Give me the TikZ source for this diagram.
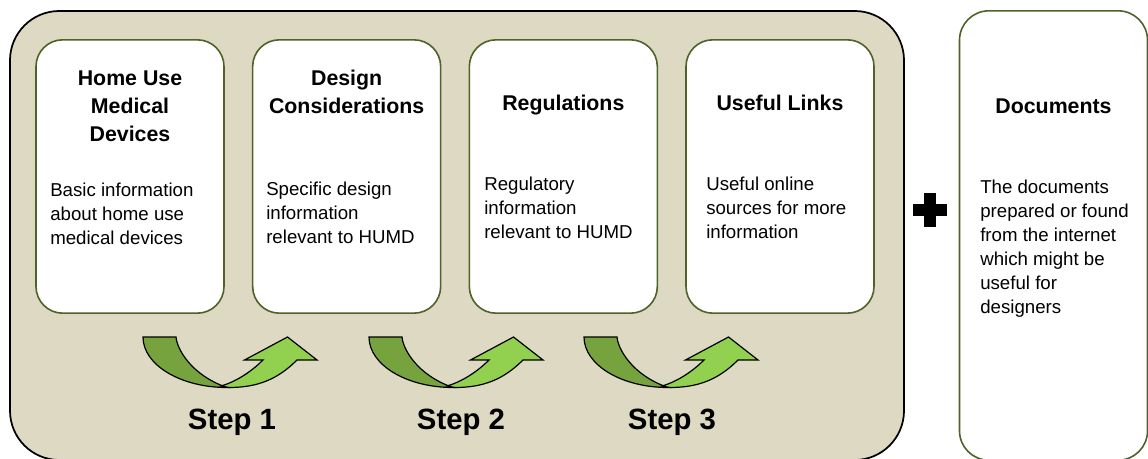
\documentclass[tikz,border=0pt]{standalone}
\usepackage{fontspec}
\setmainfont{Liberation Sans}
\usetikzlibrary{positioning}

\definecolor{panelbg}{RGB}{221,217,195}
\definecolor{boxline}{RGB}{79,98,40}
\definecolor{arrowdark}{RGB}{118,163,62}
\definecolor{arrowlight}{RGB}{146,208,80}

\begin{document}
\begin{tikzpicture}[
    x=0.75pt, y=-0.75pt,
    node distance=20.3pt,
    card/.style={draw=boxline, line width=1.2pt, fill=white, rounded corners=20pt,
        minimum width=141pt, minimum height=205pt, inner sep=0pt},
    cardtitle/.style={font=\fontsize{16}{21}\selectfont\bfseries, align=center, anchor=base, inner sep=0pt},
    cardtext/.style={font=\fontsize{14}{18}\selectfont, align=left, anchor=base west, inner sep=0pt},
    steplabel/.style={font=\fontsize{22}{26}\selectfont\bfseries, anchor=base, inner sep=0pt},
    turnarrow/.style={draw=black, line width=0.9pt}
]
\useasboundingbox (0,0) rectangle (1148,459);

% Frame round the steps
\draw[fill=panelbg, line width=1.3pt, rounded corners=37pt] (10,11) rectangle (904,460);

% Cards
\node[card] (home) at (130,176.5) {};
\node[card, right=of home] (design) {};
\node[card, right=of design] (regs) {};
\node[card, right=of regs] (links) {};
\node[card, minimum height=337pt, rounded corners=22pt] (docs) at (1053.5,235.5) {};

% Titles (base = last line)
\node[cardtitle] (home-title) at (home.north |- 0,142) {Home Use\\Medical\\Devices};
\node[cardtitle] (design-title) at (design.north |- 0,114) {Design\\Considerations};
\node[cardtitle] (regs-title) at (regs.north |- 0,111) {Regulations};
\node[cardtitle] (links-title) at (links.north |- 0,111) {Useful Links};
\node[cardtitle] (docs-title) at (docs.north |- 0,114) {Documents};

% Texts (base = last line)
\node[cardtext] (home-text) at (50,245) {Basic information\\about home use\\medical devices};
\node[cardtext] (design-text) at (266,244) {Specific design\\information\\relevant to HUMD};
\node[cardtext] (regs-text) at (484,239) {Regulatory\\information\\relevant to HUMD};
\node[cardtext] (links-text) at (706,239) {Useful online\\sources for more\\information};
\node[cardtext] (docs-text) at (980,314) {The documents\\prepared or found\\from the internet\\which might be\\useful for\\designers};

% Plus
\fill (913,204) rectangle (947,216);
\fill (924,193) rectangle (936,227);

% Step arrows
\foreach \sx/\lx/\n in {143/232/1, 369/461/2, 584/672/3} {
    \begin{scope}[shift={(\sx,337)}]
        \filldraw[turnarrow, fill=arrowdark] (0,0) -- (33,0)
            .. controls (34,12) and (48,38) .. (84,50.5)
            .. controls (37.6,50.5) and (0,27.9) .. (0,0) -- cycle;
        \filldraw[turnarrow, fill=arrowlight] (78,49)
            .. controls (95,44) and (110,33) .. (120,23)
            -- (101.5,23) -- (144.5,0) -- (174,23) -- (154,23)
            .. controls (135,42) and (115,50.5) .. (86,50.5) -- cycle;
    \end{scope}
    \node[steplabel] (step\n) at (\lx,429) {Step \n};
}

\end{tikzpicture}
\end{document}
